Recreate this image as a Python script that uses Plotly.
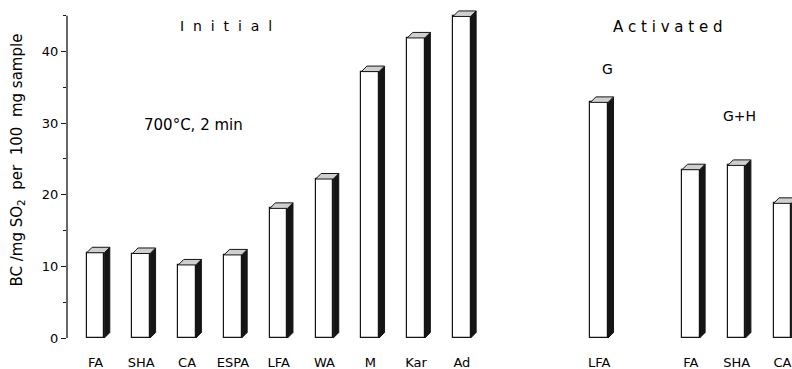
import plotly.graph_objects as go

# SO2 breakthrough capacity (BC, mg SO2 per 100 mg sample)
initial_labels = ["FA", "SHA", "CA", "ESPA", "LFA", "WA", "M", "Kar", "Ad"]
initial_bc = [11.9, 11.8, 10.2, 11.6, 18.1, 22.2, 37.2, 41.9, 44.9]

activated_g_labels = ["LFA"]
activated_g_bc = [32.9]

activated_gh_labels = ["FA", "SHA", "CA"]
activated_gh_bc = [23.5, 24.1, 18.8]

# layout of the bar slots: empty slots left before each following group
GROUP_GAPS = [3, 2]
BAR_W = 0.385      # front face width (x units)
DX = 0.12          # depth offset of the 3-D side, x units
DY = 0.77          # depth offset of the 3-D side, y units

FONT = "DejaVu Sans"
INK = "#000000"
SIDE = "#151515"

groups = [(initial_labels, initial_bc),
          (activated_g_labels, activated_g_bc),
          (activated_gh_labels, activated_gh_bc)]

xs, ys, labels = [], [], []
slot = 0
for gi, (labs, vals) in enumerate(groups):
    if gi > 0:
        slot += GROUP_GAPS[gi - 1] - 1
    for lab, v in zip(labs, vals):
        xs.append(slot)
        ys.append(v)
        labels.append(lab)
        slot += 1

fig = go.Figure()

# front faces
fig.add_trace(go.Bar(
    x=xs, y=ys, width=BAR_W,
    marker=dict(color="white", line=dict(color=SIDE, width=1.2)),
    showlegend=False, hoverinfo="skip",
))

# side and top faces for the 3-D look
for x, v in zip(xs, ys):
    r = x + BAR_W / 2
    l = x - BAR_W / 2
    fig.add_trace(go.Scatter(
        x=[r, r + DX, r + DX, r, r], y=[0, DY, v + DY, v, 0],
        mode="lines", fill="toself", fillcolor=SIDE,
        line=dict(color=SIDE, width=1), showlegend=False, hoverinfo="skip",
    ))
    fig.add_trace(go.Scatter(
        x=[l, r, r + DX, l + DX, l], y=[v, v, v + DY, v + DY, v],
        mode="lines", fill="toself", fillcolor="#cfcfcf",
        line=dict(color=SIDE, width=1), showlegend=False, hoverinfo="skip",
    ))

# vertical axis line (ends at 45)
fig.add_shape(type="line", xref="paper", yref="y", x0=0, x1=0, y0=0, y1=45,
              line=dict(color=SIDE, width=1.3))

def note(text, x, y, size):
    fig.add_annotation(text=text, x=x, y=y, xref="x", yref="y",
                       showarrow=False, xanchor="center", yanchor="middle",
                       font=dict(family=FONT, size=size, color=INK))

note("\u00a0\u00a0".join("Initial"), 2.85, 43.6, 14)
note("\u00a0".join("Activated"), 12.5, 43.4, 15)
note("700°C, 2 min", 2.13, 29.7, 15)
note("G", 11.19, 37.6, 14)
note("G+H", 14.07, 31.0, 14)

fig.add_annotation(
    text="BC /mg SO<sub>2</sub>\u00a0 per\u00a0 100\u00a0 mg sample",
    xref="paper", yref="y", x=-0.0683, y=24.86, textangle=-90,
    showarrow=False, xanchor="center", yanchor="middle",
    font=dict(family=FONT, size=15, color=INK),
)

fig.update_layout(
    width=792, height=369,
    margin=dict(l=67, r=0, t=5, b=31, autoexpand=False),
    paper_bgcolor="white", plot_bgcolor="white",
    bargap=0,
    xaxis=dict(
        range=[-0.622, 15.21], showgrid=False, zeroline=False, showline=False,
        automargin=False,
        tickmode="array", tickvals=xs, ticktext=labels, ticks="",
        ticklabelstandoff=15,
        tickfont=dict(family=FONT, size=13, color=INK),
    ),
    yaxis=dict(
        range=[0, 46.5], showgrid=False, zeroline=False, showline=False,
        automargin=False,
        tickmode="array", tickvals=[0, 10, 20, 30, 40],
        ticks="outside", ticklen=5, tickwidth=1.3, tickcolor=SIDE,
        minor=dict(tickvals=[5, 15, 25, 35, 45], ticks="outside",
                   ticklen=3, tickwidth=1.2, tickcolor=SIDE),
        tickfont=dict(family=FONT, size=13, color=INK),
    ),
)

fig.write_html("out.html")
